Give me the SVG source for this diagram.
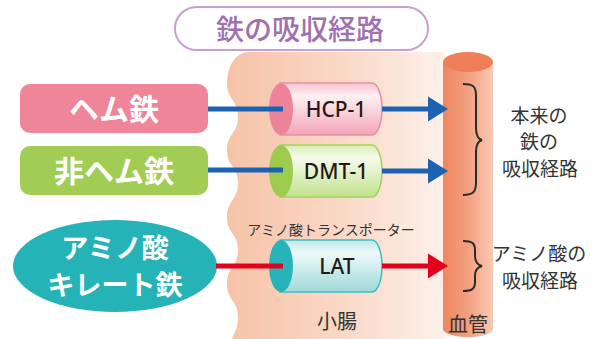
<svg xmlns="http://www.w3.org/2000/svg" width="593" height="339" viewBox="0 0 593 339">
<defs>
<linearGradient id="gInt" x1="0" y1="0" x2="1" y2="0">
<stop offset="0" stop-color="#f6c3a7"/><stop offset="0.55" stop-color="#fad9c8"/><stop offset="1" stop-color="#fdf1ea"/>
</linearGradient>
<linearGradient id="gVes" x1="0" y1="0" x2="1" y2="0">
<stop offset="0" stop-color="#ee8560"/><stop offset="0.5" stop-color="#f2a080"/><stop offset="1" stop-color="#f8c9b2"/>
</linearGradient>
<linearGradient id="gPink" x1="0" y1="0" x2="0" y2="1">
<stop offset="0" stop-color="#f6c4d0"/><stop offset="0.25" stop-color="#fdf0f3"/><stop offset="1" stop-color="#f2a5b7"/>
</linearGradient>
<linearGradient id="gGreen" x1="0" y1="0" x2="0" y2="1">
<stop offset="0" stop-color="#d8eeb3"/><stop offset="0.25" stop-color="#f6fbec"/><stop offset="1" stop-color="#c0e18c"/>
</linearGradient>
<linearGradient id="gTeal" x1="0" y1="0" x2="0" y2="1">
<stop offset="0" stop-color="#bfe7e8"/><stop offset="0.25" stop-color="#eef9f9"/><stop offset="1" stop-color="#9fd8da"/>
</linearGradient>
<style>
.jp{font-family:"Noto Sans CJK JP","Noto Sans",sans-serif;}
.lbl{font-family:"Noto Sans CJK JP","Noto Sans",sans-serif;font-weight:bold;fill:#fff;text-anchor:middle;}
.cyl{font-family:"Noto Sans","Noto Sans CJK JP",sans-serif;font-weight:500;fill:#231815;text-anchor:middle;font-size:21px;}
.dark{fill:#333;text-anchor:middle;}
.brace{fill:none;stroke:#2b2b2b;stroke-width:2;}
.blue{stroke:#1b62b3;stroke-width:5;fill:none;}
.red{stroke:#e3001b;stroke-width:5;fill:none;}
</style>
</defs>

<g id="intestine">
<path d="M445,52 H250 C236,52 228,64 227,83 C227,100 238,100 238,117 C238,134 227,133 227,150 C227,167 238,166 238,183 C238,200 227,200 227,217 C227,234 238,233 238,250 C238,267 227,267 227,284 C227,301 238,300 238,317 C238,330 233,334 232,339 H445 Z" fill="url(#gInt)"/>
<text class="jp dark" x="337" y="329" font-size="20">小腸</text>
</g>

<g id="vessel">
<path d="M443,62 V329 A25,8 0 0 0 493,329 V62 Z" fill="url(#gVes)"/>
<ellipse cx="468" cy="62" rx="25" ry="10" fill="#ee7e57"/>
<text class="jp dark" x="468" y="332" font-size="20">血管</text>
</g>

<g id="title">
<rect x="175" y="7" width="253" height="43" rx="21.5" fill="#fff" stroke="#c79fd3" stroke-width="2"/>
<text class="jp" x="300" y="40" font-size="28" font-weight="500" fill="#a070b0" text-anchor="middle">鉄の吸収経路</text>
</g>

<g id="heme">
<rect x="20" y="84" width="188" height="49" rx="10" fill="#ee8598"/>
<text class="lbl" x="114" y="120" font-size="30">ヘム鉄</text>
</g>
<g id="nonheme">
<rect x="20" y="146" width="188" height="49" rx="10" fill="#a2cd55"/>
<text class="lbl" x="114" y="182" font-size="30">非ヘム鉄</text>
</g>
<g id="chelate">
<ellipse cx="115" cy="266" rx="102" ry="46" fill="#25b3b7"/>
<text class="lbl" x="115" y="258" font-size="27">アミノ酸</text>
<text class="lbl" x="115" y="295" font-size="27">キレート鉄</text>
</g>

<g id="hcp1">
<path d="M280,83 H372 A10,26 0 0 1 372,135 H280 Z" fill="url(#gPink)" stroke="#ec8ea2" stroke-width="1.5"/>
<ellipse cx="281" cy="109" rx="12" ry="26" fill="#ec8399"/>
<text class="cyl" x="336" y="117">HCP-1</text>
</g>
<g id="dmt1">
<path d="M280,145 H372 A10,26 0 0 1 372,197 H280 Z" fill="url(#gGreen)" stroke="#a6d15c" stroke-width="1.5"/>
<ellipse cx="281" cy="171" rx="12" ry="26" fill="#9dcb4e"/>
<text class="cyl" x="336" y="179">DMT-1</text>
</g>
<g id="lat">
<text class="jp" x="331" y="235" font-size="14" fill="#333" text-anchor="middle">アミノ酸トランスポーター</text>
<path d="M280,240 H372 A10,26 0 0 1 372,292 H280 Z" fill="url(#gTeal)" stroke="#3dbfc2" stroke-width="1.5"/>
<ellipse cx="281" cy="266" rx="12" ry="26" fill="#27b4b8"/>
<text class="cyl" x="337" y="274">LAT</text>
</g>

<g id="connectors">
<line class="blue" x1="208" y1="109" x2="283" y2="109"/>
<line class="blue" x1="208" y1="170" x2="283" y2="170"/>
<line class="red" x1="216" y1="266" x2="283" y2="266"/>
<line class="blue" x1="382" y1="109" x2="430" y2="109"/>
<polygon points="428,96.5 448,109 428,121.5" fill="#1b62b3"/>
<line class="blue" x1="382" y1="171" x2="430" y2="171"/>
<polygon points="428,158.5 448,171 428,183.5" fill="#1b62b3"/>
<line class="red" x1="382" y1="266" x2="430" y2="266"/>
<polygon points="428,253.5 448,266 428,278.5" fill="#e3001b"/>
</g>

<g id="braces">
<path class="brace" d="M463,84 C474,84 476,87 476,96 V128 C476,136 478,139 482,140 C478,141 476,144 476,152 V182 C476,191 474,195 463,195"/>
<path class="brace" d="M463,241 C472,241 475,243 475,250 V256 C475,262 478,265 482,266 C478,267 475,270 475,276 V282 C475,289 472,291 463,291"/>
</g>

<g id="notes">
<text class="jp dark" x="539" y="123" font-size="19">本来の</text>
<text class="jp dark" x="539" y="149" font-size="19">鉄の</text>
<text class="jp dark" x="540" y="176" font-size="19">吸収経路</text>
<text class="jp dark" x="539" y="261" font-size="19">アミノ酸の</text>
<text class="jp dark" x="540" y="288" font-size="19">吸収経路</text>
</g>
</svg>
